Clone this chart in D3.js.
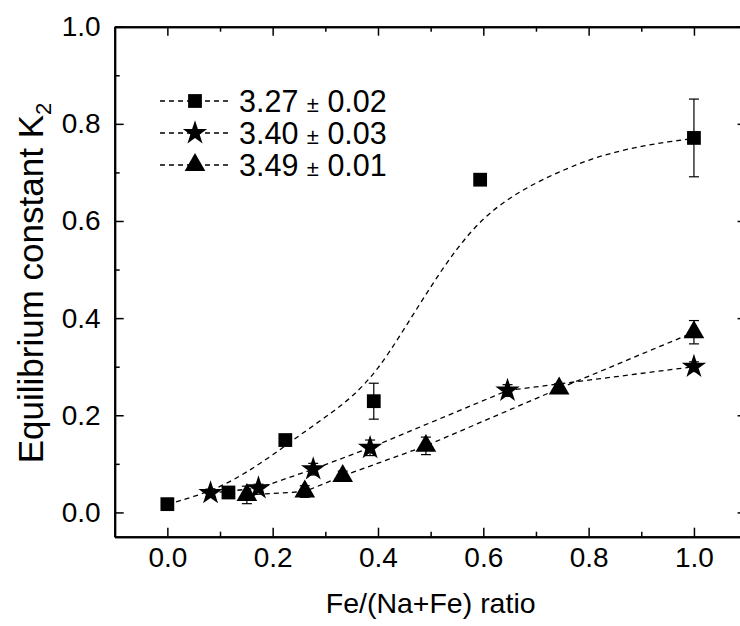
<!DOCTYPE html>
<html>
<head>
<meta charset="utf-8">
<script src="https://cdn.jsdelivr.net/npm/d3@7"></script>
<style>
  body { margin: 0; background: #fff; }
  text { font-family: "Liberation Sans", Arial, sans-serif; fill: #000; }
</style>
</head>
<body>
<svg id="chart"></svg>
<script>
var w = 740
var h = 626

// ########## Data ##########
// Fe/(Na+Fe) ratio and K2 for each series (legend value = fitted pKa)
var sqX = [0.0, 0.116, 0.224, 0.392, 0.594, 1.0];
var sqY = [0.017, 0.041, 0.149, 0.229, 0.685, 0.771];
var sqErr = [0, 0, 0, 0.037, 0, 0.08];

var starX = [0.082, 0.173, 0.277, 0.385, 0.646, 1.0];
var starY = [0.040, 0.050, 0.089, 0.133, 0.251, 0.300];
var starErr = [0.008, 0.008, 0.012, 0.016, 0.012, 0.010];

var triX = [0.151, 0.261, 0.333, 0.491, 0.744, 1.0];
var triY = [0.036, 0.043, 0.075, 0.137, 0.255, 0.371];
var triErr = [0.018, 0.012, 0.010, 0.018, 0.010, 0.024];

// dashed fit drawn through the square series
var fitX = [0.0, 0.05, 0.1, 0.15, 0.2, 0.25, 0.3, 0.35, 0.4, 0.45, 0.5, 0.55, 0.6, 0.65, 0.7, 0.75, 0.8, 0.85, 0.9, 0.95, 1.0];
var fitY = [0.017, 0.032, 0.052, 0.082, 0.118, 0.158, 0.196, 0.236, 0.293, 0.378, 0.465, 0.545, 0.607, 0.648, 0.679, 0.704, 0.726, 0.742, 0.754, 0.763, 0.770];

var legendLabels = ["3.27", "3.40", "3.49"];
var legendErrs = ["0.02", "0.03", "0.01"];

var xTicks = [0, 0.2, 0.4, 0.6, 0.8, 1.0];
var yTicks = [0, 0.2, 0.4, 0.6, 0.8, 1.0];

// ########## SVG ##########
var svg = d3.select("#chart")
    .attr("width", w)
    .attr("height", h);

var margin = { left: 114.7, top: 26.7, right: 746.6, bottom: 536.7 };

var x = d3.scaleLinear().domain([-0.1, 1.1]).range([margin.left, margin.right]);
var y = d3.scaleLinear().domain([-0.05, 1.0]).range([margin.bottom, margin.top]);

var minorX = d3.range(-0.1, 1.11, 0.1).map(function (d) { return +d.toFixed(2); })
    .filter(function (d) { return xTicks.indexOf(d) < 0; });
var minorY = d3.range(0.1, 1.0, 0.2).map(function (d) { return +d.toFixed(2); });

// ########## Axes ##########
function styleAxis(g) {
    g.attr("font-size", 28).attr("font-family", '"Liberation Sans", Arial, sans-serif');
    g.select(".domain").attr("stroke-width", 2).attr("stroke", "#000");
    g.selectAll(".tick line").attr("stroke-width", 1.5).attr("stroke", "#000");
}

svg.append("g").attr("transform", "translate(0," + margin.bottom + ")")
    .call(d3.axisBottom(x).tickValues(xTicks).tickFormat(d3.format(".1f"))
        .tickSize(-9).tickSizeOuter(0).tickPadding(10))
    .call(styleAxis);
svg.append("g").attr("transform", "translate(0," + margin.bottom + ")")
    .call(d3.axisBottom(x).tickValues(minorX).tickFormat("").tickSize(-5).tickSizeOuter(0))
    .call(styleAxis);

svg.append("g").attr("transform", "translate(0," + margin.top + ")")
    .call(d3.axisTop(x).tickValues(xTicks).tickFormat("").tickSize(-9).tickSizeOuter(0))
    .call(styleAxis);
svg.append("g").attr("transform", "translate(0," + margin.top + ")")
    .call(d3.axisTop(x).tickValues(minorX).tickFormat("").tickSize(-5).tickSizeOuter(0))
    .call(styleAxis);

svg.append("g").attr("transform", "translate(" + margin.left + ",0)")
    .call(d3.axisLeft(y).tickValues(yTicks).tickFormat(d3.format(".1f"))
        .tickSize(-9).tickSizeOuter(0).tickPadding(14))
    .call(styleAxis);
svg.append("g").attr("transform", "translate(" + margin.left + ",0)")
    .call(d3.axisLeft(y).tickValues(minorY).tickFormat("").tickSize(-5).tickSizeOuter(0))
    .call(styleAxis);

svg.append("g").attr("transform", "translate(" + margin.right + ",0)")
    .call(d3.axisRight(y).tickValues(yTicks).tickFormat("").tickSize(-9).tickSizeOuter(0))
    .call(styleAxis);
svg.append("g").attr("transform", "translate(" + margin.right + ",0)")
    .call(d3.axisRight(y).tickValues(minorY).tickFormat("").tickSize(-5).tickSizeOuter(0))
    .call(styleAxis);

// ########## Titles ##########
svg.append("text")
    .attr("x", (margin.left + margin.right) / 2)
    .attr("y", 613)
    .attr("text-anchor", "middle")
    .style("font-size", "28.5px")
    .text("Fe/(Na+Fe) ratio");

var yTitle = svg.append("text")
    .attr("transform", "translate(43,283) rotate(-90)")
    .attr("text-anchor", "middle")
    .style("font-size", "35px");
yTitle.append("tspan").text("Equilibrium constant K");
yTitle.append("tspan").attr("dy", 8).style("font-size", "22px").text("2");

// ########## Lines ##########
var dash = "5,4";

function pts(xs, ys) {
    return xs.map(function (d, i) { return [d, ys[i]]; });
}

var line = d3.line()
    .x(function (d) { return x(d[0]); })
    .y(function (d) { return y(d[1]); });

svg.append("path")
    .attr("d", line.curve(d3.curveBasis)(pts(fitX, fitY)))
    .attr("fill", "none").attr("stroke", "#000")
    .attr("stroke-width", 1.3).attr("stroke-dasharray", dash);

svg.append("path")
    .attr("d", line.curve(d3.curveLinear)(pts(starX, starY)))
    .attr("fill", "none").attr("stroke", "#000")
    .attr("stroke-width", 1.3).attr("stroke-dasharray", dash);

svg.append("path")
    .attr("d", line.curve(d3.curveLinear)(pts(triX, triY)))
    .attr("fill", "none").attr("stroke", "#000")
    .attr("stroke-width", 1.3).attr("stroke-dasharray", dash);

// ########## Error bars and markers ##########
var series = [
    { xs: sqX, ys: sqY, es: sqErr, sym: d3.symbol().type(d3.symbolSquare).size(190) },
    { xs: starX, ys: starY, es: starErr, sym: d3.symbol().type(d3.symbolStar).size(185) },
    { xs: triX, ys: triY, es: triErr, sym: d3.symbol().type(d3.symbolTriangle).size(185) }
];

series.forEach(function (s) {
    var data = s.xs.map(function (d, i) { return { x: d, y: s.ys[i], e: s.es[i] }; });
    var eb = svg.append("g").selectAll("g")
        .data(data.filter(function (d) { return d.e > 0; })).enter()
        .append("g").attr("stroke", "#000").attr("stroke-width", 1.2);
    eb.append("line")
        .attr("x1", function (d) { return x(d.x); })
        .attr("x2", function (d) { return x(d.x); })
        .attr("y1", function (d) { return y(d.y - d.e); })
        .attr("y2", function (d) { return y(d.y + d.e); });
    [-1, 1].forEach(function (k) {
        eb.append("line")
            .attr("x1", function (d) { return x(d.x) - 5; })
            .attr("x2", function (d) { return x(d.x) + 5; })
            .attr("y1", function (d) { return y(d.y + k * d.e); })
            .attr("y2", function (d) { return y(d.y + k * d.e); });
    });

    svg.append("g").selectAll("path")
        .data(data).enter()
        .append("path")
        .attr("d", s.sym)
        .attr("transform", function (d) { return "translate(" + x(d.x) + "," + y(d.y) + ")"; })
        .attr("fill", "#000");
});

// ########## Legend ##########
var legendY = [101, 133, 165];
var legend = svg.append("g").selectAll("g")
    .data(legendLabels).enter()
    .append("g")
    .attr("transform", function (d, i) { return "translate(0," + legendY[i] + ")"; });

legend.append("line")
    .attr("x1", 160).attr("x2", 230)
    .attr("stroke", "#000").attr("stroke-width", 1.3)
    .attr("stroke-dasharray", dash);

legend.append("path")
    .attr("d", function (d, i) { return series[i].sym(); })
    .attr("transform", "translate(195,0)")
    .attr("fill", "#000");

var lt = legend.append("text")
    .attr("x", 239).attr("y", 10.5)
    .style("font-size", "30.5px");
lt.append("tspan").text(function (d) { return d + " "; });
lt.append("tspan").style("font-size", "22px").text("\u00b1");
lt.append("tspan").text(function (d, i) { return " " + legendErrs[i]; });
</script>
</body>
</html>
